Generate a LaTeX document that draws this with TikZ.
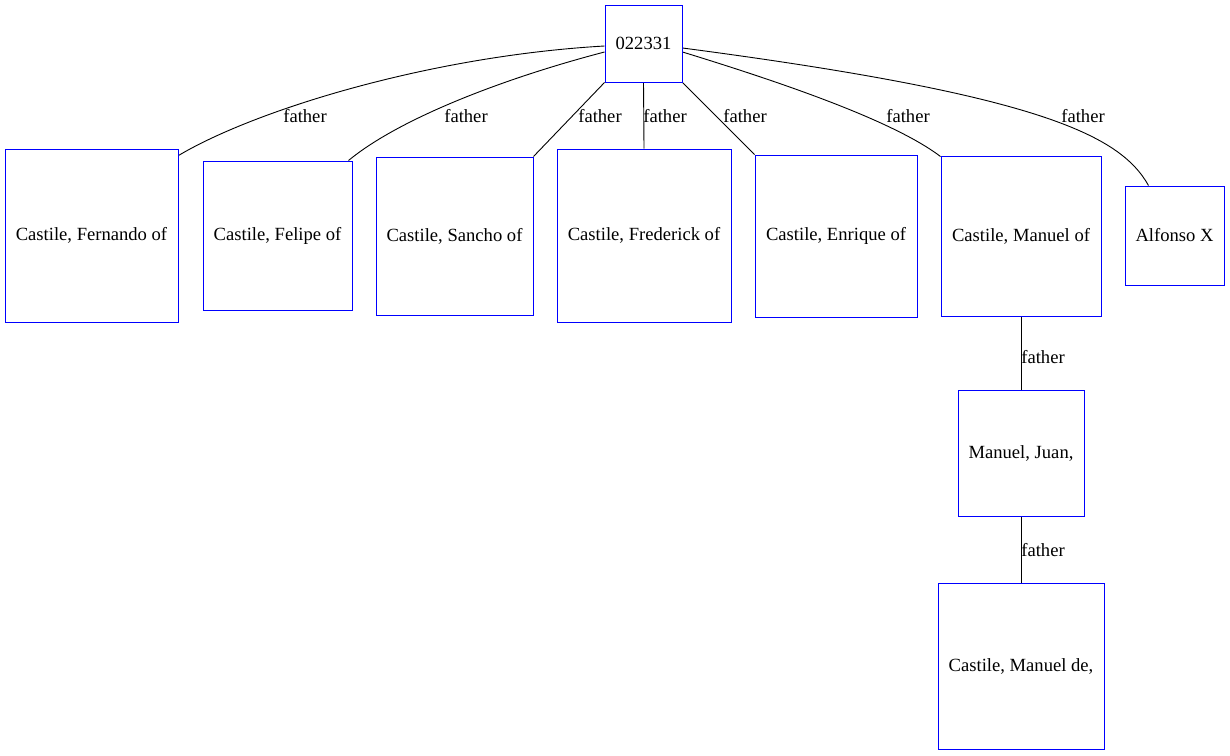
\documentclass[tikz,border=0pt]{standalone}
\usepackage{fontspec}
\setmainfont{Liberation Serif}
\pgfdeclarelayer{bg}
\pgfsetlayers{bg,main}

\tikzset{
    person/.style={draw=blue, line width=1pt, inner sep=0pt, font=\fontsize{18.6}{22}\selectfont},
    rel/.style={font=\fontsize{18.6}{22}\selectfont, inner sep=1pt},
    link/.style={line width=0.9pt}
}

\begin{document}
\begin{tikzpicture}[x=1pt,y=-1pt]
    \useasboundingbox (0,0) rectangle (1230,755);

    % the record and its children
    \node[person, minimum width=77, minimum height=77] (rec) at (643.5,43.5) {022331};
    \node[person, minimum width=173, minimum height=173] (fernando) at (91.5,235.5) {Castile, Fernando of};
    \node[person, minimum width=149, minimum height=149] (felipe) at (277.5,235.5) {Castile, Felipe of};
    \node[person, minimum width=157, minimum height=158] (sancho) at (454.5,236) {Castile, Sancho of};
    \node[person, minimum width=174, minimum height=173] (frederick) at (644,235.5) {Castile, Frederick of};
    \node[person, minimum width=162, minimum height=162] (enrique) at (836,236) {Castile, Enrique of};
    \node[person, minimum width=160, minimum height=160] (manuel) at (1021,236) {Castile, Manuel of};
    \node[person, minimum width=99, minimum height=99] (alfonso) at (1174.5,235.5) {Alfonso X};
    \node[person, minimum width=126, minimum height=126] (juan) at (1021,453) {Manuel, Juan,};
    \node[person, minimum width=166, minimum height=166] (manueld) at (1021,666) {Castile, Manuel de,};

    % edges, bent like the spline layout
    \begin{pgfonlayer}{bg}
    \draw[link] ([yshift=-2.5]rec.west) .. controls (430,56) and (255,110) .. ([yshift=-7]fernando.north east);
    \draw[link] ([yshift=-8.5]rec.west) .. controls (505,78) and (400,118) .. ([xshift=-4]felipe.north east);
    \draw[link] (rec.south west) -- (sancho.north east);
    \draw[link] (rec.south) -- (frederick.north);
    \draw[link] (rec.south east) -- (enrique.north west);
    \draw[link] ([yshift=-8.5]rec.east) .. controls (790,85) and (895,122) .. ([yshift=-1]manuel.north west);
    \draw[link] ([yshift=-4.5]rec.east) .. controls (1040,95) and (1120,135) .. ([xshift=-26]alfonso.north);
    \draw[link] (manuel.south) -- (juan.north);
    \draw[link] (juan.south) -- (manueld.north);
    \end{pgfonlayer}

    % labels
    \foreach \x [count=\i] in {305,466,600,665,745,908,1083}
    {
        \node[rel] (lab\i) at (\x,116) {father};
    }
    \node[rel] (labjuan) at (1043,357) {father};
    \node[rel] (labde) at (1043,550) {father};

\end{tikzpicture}
\end{document}
